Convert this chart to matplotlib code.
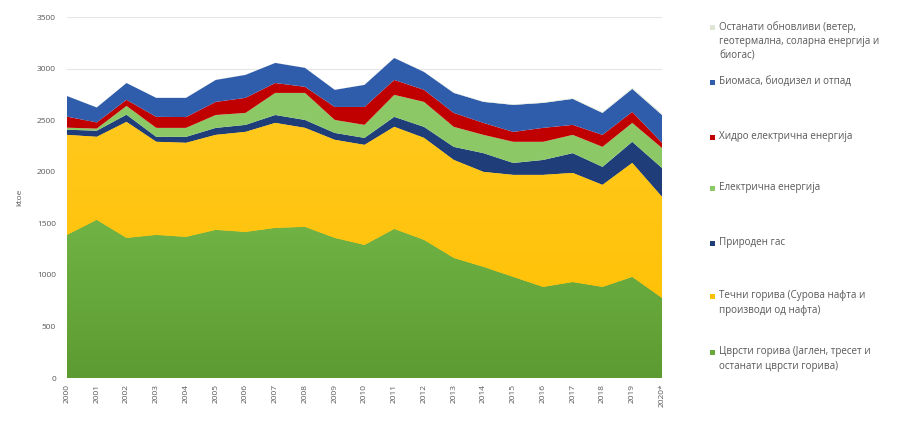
import matplotlib
matplotlib.use("Agg")
import matplotlib.pyplot as plt
import numpy as np
from matplotlib.patches import Rectangle, PathPatch
from matplotlib.colors import LinearSegmentedColormap

plt.rcParams['font.family'] = ['Open Sans', 'DejaVu Sans']

years = ["2000", "2001", "2002", "2003", "2004", "2005", "2006", "2007", "2008", "2009",
         "2010", "2011", "2012", "2013", "2014", "2015", "2016", "2017", "2018", "2019", "2020*"]

solid = [1387, 1533, 1358, 1387, 1368, 1436, 1416, 1455, 1465, 1358,
         1290, 1445, 1339, 1164, 1077, 980, 883, 930, 883, 980, 776]
liquid = [970, 805, 1125, 903, 912, 921, 970, 1018, 960, 951,
          970, 990, 989, 950, 921, 989, 1086, 1058, 989, 1105, 980]
gas = [50, 60, 70, 48, 58, 68, 68, 77, 77, 67,
       68, 97, 107, 127, 182, 116, 145, 192, 175, 205, 280]
electricity = [20, 20, 85, 87, 87, 125, 116, 214, 262, 126,
               126, 213, 242, 194, 177, 205, 176, 177, 194, 183, 194]
hydro = [107, 60, 59, 107, 105, 127, 146, 96, 59, 126,
         174, 145, 117, 135, 116, 96, 135, 97, 116, 107, 50]
biomass = [200, 145, 163, 184, 186, 213, 223, 195, 184, 166,
           214, 213, 174, 194, 204, 262, 242, 252, 213, 223, 270]
other_renew = [1, 1, 1, 1, 1, 1, 1, 1, 1, 1,
               1, 2, 2, 3, 4, 5, 6, 7, 8, 10, 12]

labels = [
    "Цврсти горива (Јаглен, тресет и\nостанати цврсти горива)",
    "Течни горива (Сурова нафта и\nпроизводи од нафта)",
    "Природен гас",
    "Електрична енергија",
    "Хидро електрична енергија",
    "Биомаса, биодизел и отпад",
    "Останати обновливи (ветер,\nгеотермална, соларна енергија и\nбиогас)",
]
colors = ["#67a93c", "#ffc000", "#1f3d78", "#8cc866", "#c00000", "#2f5dab", "#dfe6d6"]
series = [solid, liquid, gas, electricity, hydro, biomass, other_renew]

fig = plt.figure(figsize=(9.02, 4.23), dpi=100)
ax = fig.add_axes([67/902, 1-378/423, (662-67)/902, (378-17)/423])

x = np.arange(len(years))
polys = ax.stackplot(x, *series, colors=colors, linewidth=0)

ax.set_xlim(0, len(years)-1)
ax.set_ylim(0, 3500)

# subtle vertical gradients for the two big layers (as in the reference)
grads = {0: ("#5c9b31", "#71b345"), 1: ("#ffc000", "#ffc81c")}
cum = np.cumsum(np.array(series), axis=0)
for idx, (c_bot, c_top) in grads.items():
    cmap = LinearSegmentedColormap.from_list("g%d" % idx, [c_bot, c_top])
    grad = np.linspace(0, 1, 256).reshape(-1, 1)
    top = cum[idx].max()
    im = ax.imshow(grad, cmap=cmap, origin='lower', aspect='auto',
                   extent=[0, len(years)-1, 0, top], zorder=polys[idx].get_zorder()+0.01,
                   interpolation='bilinear')
    path = polys[idx].get_paths()[0]
    clip = PathPatch(path, transform=ax.transData, facecolor='none', edgecolor='none')
    ax.add_patch(clip)
    im.set_clip_path(clip)

ax.set_xlim(0, len(years)-1)
ax.set_ylim(0, 3500)
ax.set_yticks(np.arange(0, 3501, 500))
ax.set_xticks(x)
ax.set_xticklabels(years, rotation=90, fontsize=6, color="#595959")
ax.tick_params(axis='y', labelsize=6, colors="#595959", length=0, pad=8)
ax.tick_params(axis='x', length=0, pad=4)
ax.grid(axis='y', color="#e6e6e6", linewidth=0.8)
ax.set_axisbelow(True)
for s in ax.spines.values():
    s.set_visible(False)
ax.set_ylabel("ktoe", fontsize=6, color="#595959", labelpad=10)

# legend (manual, top layer first)
leg_y = [27, 82, 137, 188, 243, 296, 352]
order = list(range(len(series)))[::-1]
for yy, idx in zip(leg_y, order):
    fig.patches.append(Rectangle((710/902, 1-(yy+3)/423), 5/902, 5/423,
                                 transform=fig.transFigure, facecolor=colors[idx],
                                 edgecolor='none'))
    fig.text(719/902, 1-(yy-6)/423, labels[idx], fontsize=7.1, color="#595959",
             va='top', ha='left', linespacing=1.45)

fig.savefig("out.png", dpi=100)
